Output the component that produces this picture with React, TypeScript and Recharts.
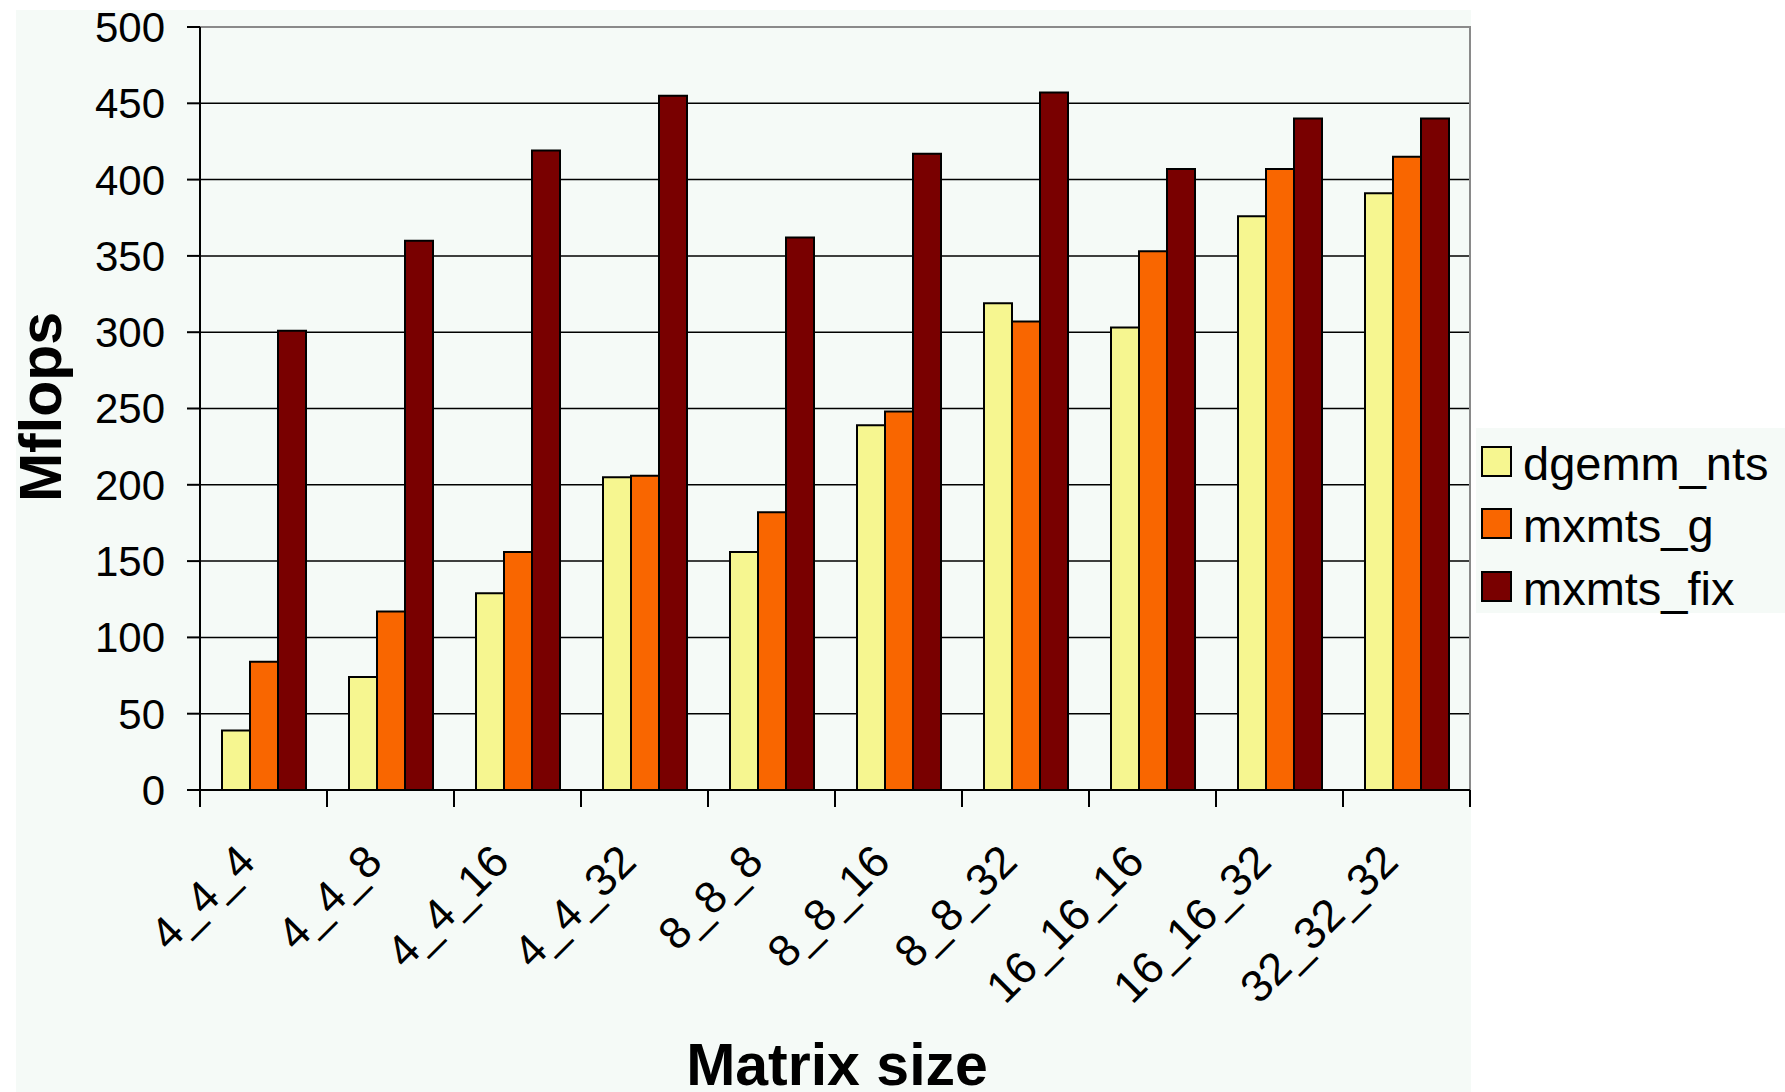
import React from "react";
import {
  BarChart,
  Bar,
  XAxis,
  YAxis,
  CartesianGrid,
  Legend,
  ReferenceArea,
} from "recharts";

const categories = [
  "4_4_4",
  "4_4_8",
  "4_4_16",
  "4_4_32",
  "8_8_8",
  "8_8_16",
  "8_8_32",
  "16_16_16",
  "16_16_32",
  "32_32_32",
];
const dgemmNts = [39, 74, 129, 205, 156, 239, 319, 303, 376, 391];
const mxmtsG = [84, 117, 156, 206, 182, 248, 307, 353, 407, 415];
const mxmtsFix = [301, 360, 419, 455, 362, 417, 457, 407, 440, 440];
const yTicks = [0, 50, 100, 150, 200, 250, 300, 350, 400, 450, 500];

const seriesNames = ["dgemm_nts", "mxmts_g", "mxmts_fix"];
const seriesColors = ["#F6F690", "#F96600", "#790000"];

const data = categories.map((name, i) => ({
  name,
  dgemm_nts: dgemmNts[i],
  mxmts_g: mxmtsG[i],
  mxmts_fix: mxmtsFix[i],
}));

const W = 1785;
const H = 1092;
const PLOT_LEFT = 200;
const PLOT_RIGHT = 1470;
const PLOT_TOP = 27;
const PLOT_BOTTOM = 790;
const BAND = (PLOT_RIGHT - PLOT_LEFT) / categories.length;
const BG = "#F5FAF7";
const FONT = "'Liberation Sans', Arial, Helvetica, sans-serif";

const XTick = (props: any) => {
  const { x, y, payload, index } = props;
  const half = BAND / 2;
  const tx = x - 6;
  const ty = y + 74;
  return (
    <g>
      <line x1={x - half} y1={y} x2={x - half} y2={y + 17} stroke="#000" strokeWidth={2} />
      {index === categories.length - 1 && (
        <line x1={x + half} y1={y} x2={x + half} y2={y + 17} stroke="#000" strokeWidth={2} />
      )}
      <text
        x={tx}
        y={ty}
        transform={`rotate(-45 ${tx} ${ty})`}
        textAnchor="end"
        fontSize={45}
        fill="#000"
      >
        {payload.value}
      </text>
    </g>
  );
};

// legend keeps the series order (recharts sorts its payload by name)
const renderLegend = () => (
  <div
    style={{
      width: 309,
      height: 185,
      background: BG,
      paddingTop: 2,
      boxSizing: "border-box",
      fontFamily: FONT,
    }}
  >
    {seriesNames.map((name, i) => (
      <div
        key={name}
        style={{ display: "flex", alignItems: "center", height: 62.5, paddingLeft: 5 }}
      >
        <div
          style={{
            width: 31,
            height: 31,
            background: seriesColors[i],
            border: "2px solid #000",
            boxSizing: "border-box",
          }}
        />
        <span
          style={{
            marginLeft: 11,
            fontSize: 47,
            color: "#000",
            position: "relative",
            top: 2,
            lineHeight: 1,
          }}
        >
          {name}
        </span>
      </div>
    ))}
  </div>
);

export default function App() {
  return (
    <div
      style={{
        position: "absolute",
        left: 0,
        top: 0,
        width: W,
        height: H,
        background: "#fff",
        overflow: "hidden",
        fontFamily: FONT,
      }}
    >
      <div
        style={{
          position: "absolute",
          left: 16,
          top: 10,
          width: 1455,
          height: H - 10,
          background: BG,
        }}
      />
      <div style={{ position: "absolute", left: 0, top: 0 }}>
        <BarChart
          width={W}
          height={H}
          data={data}
          margin={{ top: PLOT_TOP, right: W - PLOT_RIGHT, bottom: 0, left: 0 }}
          barGap={0}
          barSize={28}
          style={{ fontFamily: FONT }}
        >
          <CartesianGrid vertical={false} stroke="#000" strokeWidth={1.5} />
          <ReferenceArea y1={0} y2={500} fill="none" stroke="#8a8a8a" strokeWidth={2} />
          <XAxis
            dataKey="name"
            interval={0}
            height={H - PLOT_BOTTOM}
            tickLine={false}
            tickSize={0}
            tickMargin={0}
            axisLine={{ stroke: "#000", strokeWidth: 2 }}
            tick={<XTick />}
            label={{
              content: () => (
                <text
                  x={837}
                  y={1085}
                  textAnchor="middle"
                  fontSize={59}
                  fontWeight="bold"
                  fill="#000"
                >
                  Matrix size
                </text>
              ),
            }}
          />
          <YAxis
            width={PLOT_LEFT}
            domain={[0, 500]}
            ticks={yTicks}
            interval={0}
            tickSize={13}
            tickMargin={22}
            tickLine={{ stroke: "#000", strokeWidth: 2 }}
            axisLine={{ stroke: "#000", strokeWidth: 2 }}
            tick={{ fontSize: 42, fill: "#000" }}
            label={{
              content: () => (
                <text
                  x={61}
                  y={407}
                  transform="rotate(-90 61 407)"
                  textAnchor="middle"
                  fontSize={59}
                  fontWeight="bold"
                  fill="#000"
                >
                  Mflops
                </text>
              ),
            }}
          />
          <Legend
            layout="vertical"
            align="center"
            verticalAlign="middle"
            wrapperStyle={{ left: 1476, top: 428, width: 309, height: 185 }}
            content={renderLegend}
          />
          {seriesNames.map((name, i) => (
            <Bar
              key={name}
              dataKey={name}
              name={name}
              fill={seriesColors[i]}
              stroke="#000"
              strokeWidth={2}
              isAnimationActive={false}
            />
          ))}
        </BarChart>
      </div>
    </div>
  );
}
